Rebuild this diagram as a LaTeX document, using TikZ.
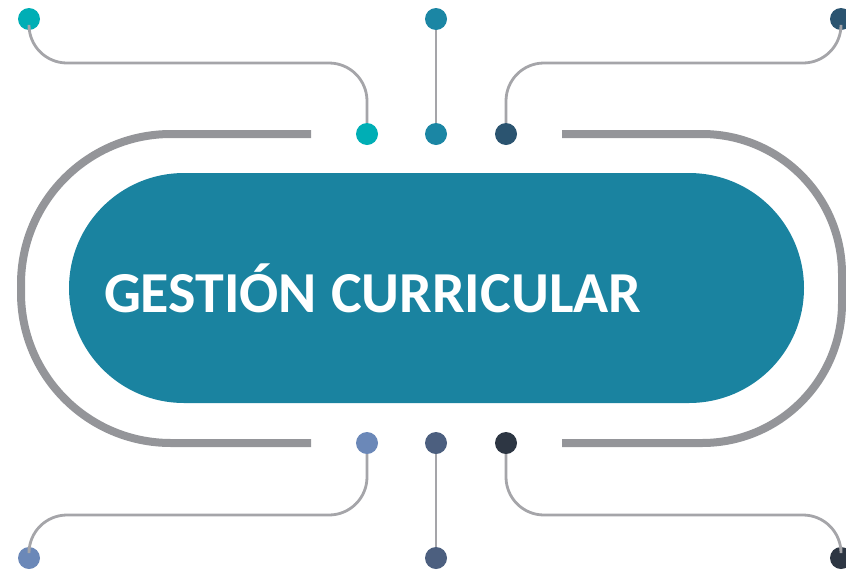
\documentclass[tikz,border=0pt]{standalone}
\usepackage{fontspec}
\setmainfont{Carlito}
\usetikzlibrary{calc}

\definecolor{coreteal}{RGB}{26,131,160}
\definecolor{bargray}{RGB}{148,149,153}
\definecolor{wiregray}{RGB}{165,165,169}
\definecolor{dotA}{RGB}{0,174,181}
\definecolor{dotB}{RGB}{27,134,164}
\definecolor{dotC}{RGB}{43,84,112}
\definecolor{dotD}{RGB}{107,136,184}
\definecolor{dotE}{RGB}{76,95,127}
\definecolor{dotF}{RGB}{45,54,67}

\tikzset{
  dot/.style={circle, fill=#1, inner sep=0pt, minimum size=22pt},
  wire/.style={draw=wiregray, line width=2.8pt, rounded corners=38pt},
  bar/.style={draw=bargray, line width=8pt, rounded corners=#1},
  pill/.style={fill=coreteal, rounded corners=115pt, minimum height=230pt,
    text width=665pt, inner xsep=35pt, align=left, text=white,
    font=\bfseries\fontsize{58}{60}\selectfont}
}

\begin{document}
\begin{tikzpicture}[x=1pt, y=-1pt]
  \clip (0,0) rectangle (846,571);

  % outer brackets
  \draw[bar=150pt] (311,134) -| (21,443) -- (311,443);
  \draw[bar=140pt] (562,134) -| (842,443) -- (562,443);

  % centre
  \node[pill] (core) at (436.5,288) {GESTIÓN\hspace{14pt}CURRICULAR};

  % levels of the wires
  \coordinate (hTop) at (0,63);
  \coordinate (hBot) at (0,515);

  % top dots
  \node[dot=dotA] (t1) at (29,19) {};
  \node[dot=dotA] (t1in) at (367,134) {};
  \node[dot=dotB] (t2) at (436,19) {};
  \node[dot=dotB] (t2in) at (436,134) {};
  \node[dot=dotC] (t3) at (841,19) {};
  \node[dot=dotC] (t3in) at (506,134) {};

  % bottom dots
  \node[dot=dotD] (b1in) at (367,443) {};
  \node[dot=dotD] (b1) at (29,558) {};
  \node[dot=dotE] (b2in) at (436,443) {};
  \node[dot=dotE] (b2) at (436,558) {};
  \node[dot=dotF] (b3in) at (506,443) {};
  \node[dot=dotF] (b3) at (841,558) {};

  % wires
  \path[wire] (t1) |- (hTop -| t1in) -- (t1in);
  \path[wire] (t2) -- (t2in);
  \path[wire] (t3) |- (hTop -| t3in) -- (t3in);
  \path[wire] (b1in) |- (hBot -| b1) -- (b1);
  \path[wire] (b2in) -- (b2);
  \path[wire] (b3in) |- (hBot -| b3) -- (b3);
\end{tikzpicture}
\end{document}
